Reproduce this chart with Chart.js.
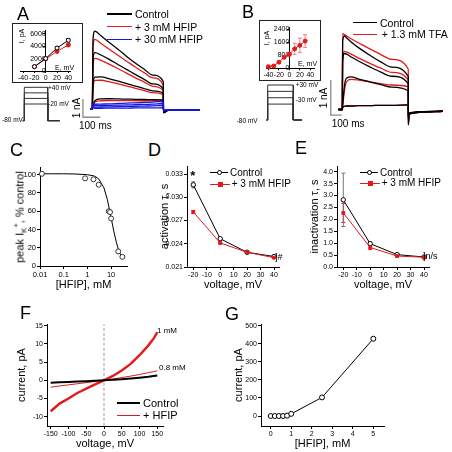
<!DOCTYPE html>
<html>
<head>
<meta charset="utf-8">
<title>HFIP / TFA figure</title>
<script src="https://cdn.jsdelivr.net/npm/chart.js@4.4.1/dist/chart.umd.min.js"></script>
<style>
  html, body { margin: 0; padding: 0; background: #fff; }
  #fig { position: relative; width: 452px; height: 452px; overflow: hidden; font-family: 'Liberation Sans', Arial, sans-serif; color: #000; }
  #fig canvas { position: absolute; }
  .t { position: absolute; white-space: nowrap; line-height: 1; }
  .t sub, .t sup { font-size: 70%; line-height: 0; }
</style>
</head>
<body>
<div id="fig"></div>
<script>
/* ---------- data ---------- */

// A: K+ current traces (time ms, current nA), steps +40 / +20 / 0 / -20 mV
const timeA = [-13, 0, 4, 15, 50, 100, 150, 200, 250, 300, 350, 410, 411, 440, 620];
const controlA = [
  [0, 0, 3.80, 4.26, 4.00, 3.62, 3.25, 2.86, 2.50, 2.17, 1.85, 1.50, -0.20, -0.06, -0.05],
  [0, 0, 2.70, 3.08, 2.95, 2.70, 2.42, 2.15, 1.88, 1.62, 1.37, 1.10, -0.20, -0.06, -0.05],
  [0, 0, 1.30, 1.74, 1.76, 1.65, 1.52, 1.38, 1.25, 1.12, 0.99, 0.86, -0.15, -0.06, -0.05],
  [0, 0, 0.20, 0.45, 0.55, 0.56, 0.55, 0.54, 0.53, 0.52, 0.51, 0.50, -0.10, -0.05, -0.05]
];
const hfip3A = [
  [0, 0, 3.40, 3.81, 3.58, 3.25, 2.92, 2.60, 2.28, 1.98, 1.70, 1.30, -0.20, -0.06, -0.05],
  [0, 0, 2.40, 2.77, 2.66, 2.44, 2.20, 1.95, 1.70, 1.47, 1.24, 1.00, -0.20, -0.06, -0.05],
  [0, 0, 1.10, 1.56, 1.57, 1.48, 1.37, 1.25, 1.13, 1.01, 0.90, 0.78, -0.15, -0.06, -0.05],
  [0, 0, 0.15, 0.38, 0.45, 0.46, 0.46, 0.46, 0.45, 0.45, 0.45, 0.45, -0.10, -0.05, -0.05]
];
const hfip30A = [
  [0, 0, 0.30, 0.26, 0.27, 0.28, 0.30, 0.32, 0.34, 0.36, 0.38, 0.42, -0.10, -0.05, -0.05],
  [0, 0, 0.20, 0.18, 0.19, 0.20, 0.21, 0.22, 0.24, 0.25, 0.27, 0.30, -0.10, -0.05, -0.05],
  [0, 0, 0.12, 0.10, 0.11, 0.12, 0.13, 0.14, 0.15, 0.16, 0.17, 0.19, -0.08, -0.05, -0.05],
  [0, 0, 0.05, 0.04, 0.04, 0.05, 0.05, 0.05, 0.06, 0.06, 0.06, 0.07, -0.06, -0.05, -0.05]
];
const barAx = [-54, -54, 46];        // scale bar: 1 nA / 100 ms
const barAy = [0.55, -0.45, -0.45];

// A: voltage protocol
const protoTimeA = [-25, 0, 0, 410, 410, 620];
const stepsA = [40, 20, 0, -20];
const holdA = -80;

// A inset: I-V
const ivEA = [-20, 0, 20, 40];
const ivCtrlA = [700, 2000, 3700, 4950];
const ivCtrlErrA = [80, 100, 200, 250];
const ivHfipA = [700, 1950, 3150, 4200];
const ivHfipErrA = [80, 100, 150, 200];
const ivXTicksA = [-40, -20, 0, 20, 40];
const ivYTicksA = [0, 2000, 4000, 6000];

// B: traces, steps +30 / +10 / -10 / -30 mV
const timeB = [-36, 0, 3, 20, 40, 80, 150, 250, 350, 450, 600, 601, 605, 640, 700, 915];
const controlB = [
  [0, 0, 1.95, 2.10, 2.04, 1.93, 1.76, 1.55, 1.36, 1.21, 0.94, -0.44, -0.15, -0.10, -0.08, -0.05],
  [0, 0, 1.35, 1.60, 1.58, 1.50, 1.38, 1.22, 1.07, 0.95, 0.73, -0.40, -0.15, -0.10, -0.08, -0.05],
  [0, 0, 0.10, 0.70, 0.90, 0.93, 0.87, 0.79, 0.71, 0.64, 0.53, -0.35, -0.12, -0.09, -0.07, -0.05],
  [0, 0, 0.06, 0.09, 0.10, 0.10, 0.11, 0.11, 0.12, 0.12, 0.13, -0.30, -0.10, -0.08, -0.06, -0.05]
];
const tfaB = [
  [0, 0, 2.17, 2.14, 2.10, 2.02, 1.90, 1.73, 1.57, 1.43, 1.15, -0.44, -0.15, -0.10, -0.08, -0.05],
  [0, 0, 1.45, 1.66, 1.64, 1.58, 1.47, 1.32, 1.18, 1.06, 0.84, -0.40, -0.15, -0.10, -0.08, -0.05],
  [0, 0, 0.08, 0.55, 0.80, 0.86, 0.84, 0.79, 0.74, 0.70, 0.65, -0.35, -0.12, -0.09, -0.07, -0.05],
  [0, 0, 0.06, 0.09, 0.10, 0.10, 0.11, 0.11, 0.12, 0.12, 0.13, -0.30, -0.10, -0.08, -0.06, -0.05]
];
const barBx = [-105, -105, -5];
const barBy = [0.84, -0.16, -0.16];

const protoTimeB = [-30, 0, 0, 600, 600, 800];
const stepsB = [30, 10, -10, -30];
const holdB = -80;

// B inset: I-V with TFA
const ivEB = [-40, -30, -20, -10, 0, 10, 20, 30];
const ivTfaB = [100, 140, 380, 680, 870, 1200, 1420, 1680];
const ivTfaErrB = [60, 50, 60, 80, 100, 350, 450, 400];
const ivXTicksB = [-40, -20, 0, 20, 40];
const ivYTicksB = [0, 800, 1600, 2400];

// C: dose-response
const hfipConc = [0.012, 0.8, 1.8, 3, 8, 9, 10, 20, 30];
const peakPct = [101, 96, 95, 89, 60, 59, 52, 16, 10];
const fitConc = [0.01, 0.03, 0.1, 0.3, 1, 2, 3, 5, 7, 10, 13, 17, 22, 30];
const fitPct = [101, 101, 101, 100.8, 100, 98.5, 95.5, 85.5, 72.5, 53, 38, 25, 15.5, 8.5];
const concTicks = [0.01, 0.1, 1, 10];
const pctTicks = [0, 20, 40, 60, 80, 100];

// D, E: time constants
const tauV = [-20, 0, 20, 40];
const actCtrl = [0.0316, 0.02465, 0.0229, 0.02235];
const actCtrlErr = [0.0004, 0.0001, 0.00005, 0.0001];
const actHfip = [0.0281, 0.0241, 0.0229, 0.0222];
const actHfipErr = [0.0002, 0.0001, 0.00005, 0.0001];
const inactCtrl = [2.82, 0.98, 0.52, 0.42];
const inactCtrlErr = [1.12, 0.07, 0.04, 0.03];
const inactHfip = [2.27, 0.82, 0.46, 0.41];
const inactHfipErr = [0.4, 0.09, 0.04, 0.03];
const tauVTicks = [-20, -10, 0, 10, 20, 30, 40];
const actTicks = [0.021, 0.024, 0.027, 0.030, 0.033];
const inactTicks = [0, 0.5, 1, 1.5, 2, 2.5, 3, 3.5, 4];

// F: I-V ramps
const rampV = [-150, -125, -100, -75, -50, -25, 0, 25, 50, 75, 100, 125, 140, 150];
const ramp1mM = [-8.5, -6.4, -5.0, -3.5, -2.3, -1.1, 0, 1.2, 2.7, 4.5, 6.9, 9.6, 11.5, 13.2];
const ramp08mM = [-1.9, -1.55, -1.25, -0.95, -0.65, -0.33, 0, 0.35, 0.75, 1.15, 1.6, 2.1, 2.4, 2.6];
const rampCtrl = [-0.65, -0.55, -0.45, -0.35, -0.25, -0.12, 0, 0.15, 0.3, 0.48, 0.7, 0.95, 1.15, 1.3];
const zeroLineV = [0, 0];
const zeroLineI = [-12.5, 15.5];
const rampVTicks = [-150, -100, -50, 0, 50, 100, 150];
const rampITicks = [-10, -5, 0, 5, 10, 15];

// G: current vs concentration
const gConc = [0, 0.2, 0.4, 0.6, 0.8, 1.0, 2.5, 5.0];
const gCurrent = [0, 0, 0, 0, 2, 12, 103, 428];
const gConcTicks = [0, 1, 2, 3, 4, 5];
const gCurTicks = [0, 100, 200, 300, 400, 500];

/* ---------- helpers ---------- */

const fig = document.getElementById('fig');
const SANS = "'Liberation Sans', Arial, sans-serif";
const NARROW = "'Liberation Sans Narrow', 'Liberation Sans', Arial, sans-serif";
const RED = '#e3191c', BLUE = '#1616e0', GRAY = '#8c8c8c';

Chart.defaults.font.family = SANS;
Chart.defaults.color = '#000';
Chart.defaults.animation = false;
Chart.defaults.events = [];
Chart.defaults.plugins.legend.display = false;
Chart.defaults.plugins.tooltip.enabled = false;

// pixel -> value calibration from two reference points
function lin(p1, v1, p2, v2) {
  const k = (v2 - v1) / (p2 - p1);
  return p => v1 + (p - p1) * k;
}
function pts(xs, ys) { return xs.map((x, i) => ({ x, y: ys[i] })); }

function canvasAt(l, t, w, h) {
  const c = document.createElement('canvas');
  c.width = w; c.height = h;
  c.style.left = l + 'px'; c.style.top = t + 'px';
  c.style.width = w + 'px'; c.style.height = h + 'px';
  fig.appendChild(c);
  return c;
}

function txt(html, x, y, size, o = {}) {
  const d = document.createElement('div');
  d.className = 't';
  d.innerHTML = html;
  d.style.left = x + 'px';
  d.style.top = y + 'px';
  d.style.fontSize = size + 'px';
  if (o.family) d.style.fontFamily = o.family;
  if (o.bold) d.style.fontWeight = 'bold';
  d.style.transform = `translate(${o.center ? '-50%' : '0'},-50%)` + (o.rot ? ' rotate(-90deg)' : '');
  fig.appendChild(d);
}
function hline(x, y, len, color, w) {
  const d = document.createElement('div');
  d.style.cssText = `position:absolute;left:${x}px;top:${y - w / 2}px;width:${len}px;height:${w}px;background:${color}`;
  fig.appendChild(d);
}
function marker(x, y, kind, color) {
  const d = document.createElement('div');
  d.style.cssText = `position:absolute;left:${x - 2.5}px;top:${y - 2.5}px;width:5px;height:5px;box-sizing:border-box;` +
    (kind === 'open' ? `border:1px solid ${color};border-radius:50%;background:#fff` : `background:${color}`);
  fig.appendChild(d);
}

// vertical error bars drawn through the chart's own y scale
const errorBars = {
  id: 'errorBars',
  beforeDatasetsDraw(chart) {
    const ctx = chart.ctx;
    chart.data.datasets.forEach((ds, i) => {
      if (!ds.errors) return;
      const meta = chart.getDatasetMeta(i);
      ctx.save();
      ctx.strokeStyle = ds.errorColor || ds.borderColor;
      ctx.lineWidth = 1;
      ds.data.forEach((p, j) => {
        const e = ds.errors[j];
        if (!e) return;
        const x = meta.data[j].x;
        const y0 = meta.yScale.getPixelForValue(p.y - e);
        const y1 = meta.yScale.getPixelForValue(p.y + e);
        ctx.beginPath();
        ctx.moveTo(x, y0); ctx.lineTo(x, y1);
        ctx.moveTo(x - 2, y0); ctx.lineTo(x + 2, y0);
        ctx.moveTo(x - 2, y1); ctx.lineTo(x + 2, y1);
        ctx.stroke();
      });
      ctx.restore();
    });
  }
};

function trace(xs, ys, color, w) {
  return { data: pts(xs, ys), borderColor: color, borderWidth: w || 1.3, pointRadius: 0,
           cubicInterpolationMode: 'monotone', fill: false };
}
function pline(xs, ys, color, w) {
  return { data: pts(xs, ys), borderColor: color, borderWidth: w || 1, pointRadius: 0, fill: false };
}
function markers(xs, ys, color, open, errors, extra) {
  return Object.assign({
    data: pts(xs, ys), errors, borderColor: color, borderWidth: 1,
    pointRadius: 2.2, pointBorderWidth: 1, pointBorderColor: color,
    pointBackgroundColor: open ? '#fff' : color, clip: false, fill: false
  }, extra || {});
}

// chart without visible axes: canvas == chart area
function bareChart(box, xr, yr, datasets) {
  return new Chart(canvasAt(...box), {
    type: 'line',
    data: { datasets },
    options: {
      responsive: false, devicePixelRatio: 1,
      layout: { padding: 0 },
      scales: {
        x: { type: 'linear', display: false, min: xr[0], max: xr[1] },
        y: { type: 'linear', display: false, min: yr[0], max: yr[1] }
      }
    }
  });
}

function axis(o) {
  const a = {
    type: o.type || 'linear',
    min: o.min, max: o.max,
    afterBuildTicks: s => { s.ticks = o.ticks.map(v => ({ value: v })); },
    afterFit: o.fit,
    grid: { drawOnChartArea: false, drawTicks: true, tickLength: o.tl || 3, color: '#000', lineWidth: 1 },
    border: { display: true, color: '#000', width: 1 },
    ticks: {
      autoSkip: false, maxRotation: 0, minRotation: 0, padding: o.pad == null ? 1 : o.pad, color: '#000',
      font: { size: o.size || 7.5, family: o.family || SANS },
      callback: o.fmt || (v => String(v))
    },
    title: o.title
      ? { display: true, text: o.title, color: '#000', padding: o.tpad,
          font: { size: o.tsize || 11, family: o.tfamily || SANS, lineHeight: 1 } }
      : { display: false }
  };
  if (o.position) a.position = o.position;
  return a;
}

// chart with left/bottom axes; area = [x0, y0, x1, y1] in page pixels
function framedChart(box, area, datasets, xo, yo) {
  const [l, t, w, h] = box;
  xo.fit = s => { s.height = t + h - area[3]; };
  yo.fit = s => { s.width = area[0] - l; };
  return new Chart(canvasAt(l, t, w, h), {
    type: 'line',
    data: { datasets },
    options: {
      responsive: false, devicePixelRatio: 1,
      layout: { padding: { left: 0, bottom: 0, top: area[1] - t, right: l + w - area[2] } },
      scales: { x: axis(xo), y: axis(yo) }
    },
    plugins: [errorBars]
  });
}

/* ---------- panel A ---------- */
{
  const ax = lin(92.3, 0, 163.3, 410), ay = lin(109, 0, 90.7, 1);
  const ds = [];
  hfip30A.forEach(v => ds.push(trace(timeA, v, BLUE)));
  controlA.forEach(v => ds.push(trace(timeA, v, '#000')));
  hfip3A.forEach(v => ds.push(trace(timeA, v, RED)));
  ds.push(pline(barAx, barAy, GRAY, 1.3));
  bareChart([80, 25, 125, 97], [ax(80), ax(205)], [ay(122), ay(25)], ds);

  const px = lin(24.3, 0, 47.7, 410), py = lin(87.3, 40, 120.7, -80);
  bareChart([18, 82, 46, 42], [px(18), px(64)], [py(124), py(82)],
    stepsA.map(L => pline(protoTimeA, protoTimeA.map((t, i) => (i === 2 || i === 3) ? L : holdA), '#333', 1)));

  const box = document.createElement('div');
  box.style.cssText = 'position:absolute;left:12px;top:23px;width:71px;height:60px;border:1.5px solid #222;box-sizing:border-box';
  fig.appendChild(box);
  const ix = lin(45.7, 0, 68.3, 40), iy = lin(71, 0, 31.7, 6000);
  new Chart(canvasAt(14, 25, 67, 56), {
    type: 'line',
    data: { datasets: [
      markers(ivEA, ivCtrlA, '#000', true, ivCtrlErrA, { pointRadius: 2 }),
      markers(ivEA, ivHfipA, RED, false, ivHfipErrA, { pointRadius: 2 })
    ] },
    options: {
      responsive: false, devicePixelRatio: 1,
      layout: { padding: { left: 20.7 - 14, right: 81 - 70, top: 28 - 25, bottom: 0 } },
      scales: {
        x: axis({ min: ix(20.7), max: ix(70), ticks: ivXTicksA, size: 7, tl: 2, fit: s => { s.height = 81 - 71; } }),
        y: axis({ min: 0, max: iy(28), ticks: ivYTicksA, size: 7, tl: 2, position: { x: 0 }, fit: s => { s.width = 0; } })
      }
    },
    plugins: [errorBars]
  });
}

/* ---------- panel B ---------- */
{
  const bx = lin(342.3, 0, 408.3, 600), by = lin(109.5, 0, 74.5, 1);
  const ds = [];
  controlB.forEach(v => ds.push(trace(timeB, v, '#000')));
  tfaB.forEach(v => ds.push(trace(timeB, v, RED)));
  ds.push(pline(barBx, barBy, GRAY, 1.3));
  bareChart([326, 25, 122, 103], [bx(326), bx(448)], [by(128), by(25)], ds);

  const qx = lin(267.7, 0, 293.3, 600), qy = lin(85, 30, 120, -80);
  bareChart([262, 80, 46, 44], [qx(262), qx(308)], [qy(124), qy(80)],
    stepsB.map(L => pline(protoTimeB, protoTimeB.map((t, i) => (i === 2 || i === 3) ? L : holdB), '#333', 1)));

  const box = document.createElement('div');
  box.style.cssText = 'position:absolute;left:259px;top:20px;width:62px;height:61px;border:1.5px solid #222;box-sizing:border-box';
  fig.appendChild(box);
  const ix = lin(289.7, 0, 312.7, 40), iy = lin(68.3, 0, 29, 2400);
  new Chart(canvasAt(261, 22, 58, 57), {
    type: 'line',
    data: { datasets: [
      markers(ivEB, ivTfaB, RED, false, ivTfaErrB, { pointRadius: 2, errorColor: '#f08080' })
    ] },
    options: {
      responsive: false, devicePixelRatio: 1,
      layout: { padding: { left: 264 - 261, right: 319 - 316.7, top: 26.7 - 22, bottom: 0 } },
      scales: {
        x: axis({ min: ix(264), max: ix(316.7), ticks: ivXTicksB, size: 7, tl: 2, fit: s => { s.height = 79 - 68.3; } }),
        y: axis({ min: 0, max: iy(26.7), ticks: ivYTicksB, size: 7, tl: 2, position: { x: 0 }, fit: s => { s.width = 0; } })
      }
    },
    plugins: [errorBars]
  });
}

/* ---------- panel C ---------- */
{
  const decade = 23.7;
  framedChart([0, 160, 135, 131], [40, 167, 127, 266], [
    markers(hfipConc, peakPct, '#333', true, null, { showLine: false, pointRadius: 2.5 }),
    pline(fitConc, fitPct, '#000', 1)
  ], {
    type: 'logarithmic', min: 0.01, max: Math.pow(10, -2 + (127 - 40) / decade), ticks: concTicks,
    title: '[HFIP], mM', tpad: { top: 0, bottom: 1 }
  }, {
    min: 0, max: (266 - 167) / 0.913, ticks: pctTicks
  });
}

/* ---------- panel D ---------- */
{
  const vx = lin(193.3, -20, 274, 40), vy = lin(174, 0.033, 267, 0.021);
  framedChart([150, 160, 140, 132], [187, 166, 279, 267], [
    markers(tauV, actHfip, RED, false, actHfipErr, { pointStyle: 'rect', pointRadius: 2 }),
    markers(tauV, actCtrl, '#000', true, actCtrlErr, { errorColor: '#777' })
  ], {
    min: vx(187), max: vx(279), ticks: tauVTicks, size: 7, family: NARROW,
    title: 'voltage, mV', tfamily: NARROW, tpad: { top: 0, bottom: 1.5 }
  }, {
    min: 0.021, max: vy(166), ticks: actTicks, size: 7, family: NARROW, fmt: v => v.toFixed(3),
    title: 'activation τ, s', tfamily: NARROW, tpad: { top: 9.5, bottom: 0 }
  });
}

/* ---------- panel E ---------- */
{
  const vx = lin(343.3, -20, 424, 40), vy = lin(171.7, 4, 267, 0);
  framedChart([300, 160, 140, 132], [337, 166, 429, 267], [
    markers(tauV, inactHfip, RED, false, inactHfipErr, { pointStyle: 'rect', pointRadius: 2 }),
    markers(tauV, inactCtrl, '#000', true, inactCtrlErr, { errorColor: '#777' })
  ], {
    min: vx(337), max: vx(429), ticks: tauVTicks, size: 7, family: NARROW,
    title: 'voltage, mV', tfamily: NARROW, tpad: { top: 0, bottom: 1.5 }
  }, {
    min: 0, max: vy(166), ticks: inactTicks, size: 7, family: NARROW, fmt: v => v.toFixed(1),
    title: 'inactivation τ, s', tfamily: NARROW, tpad: { top: 9.5, bottom: 0 }
  });
}

/* ---------- panel F ---------- */
{
  const fx = lin(50.7, -150, 157.3, 150), fy = lin(325.7, 15, 416.7, -10);
  framedChart([0, 305, 170, 146], [47, 324, 163, 426], [
    pline(rampV, rampCtrl, '#000', 2),
    pline(rampV, ramp08mM, RED, 1),
    pline(rampV, ramp1mM, RED, 2.4),
    Object.assign(pline(zeroLineV, zeroLineI, '#999', 1), { borderDash: [3, 2] })
  ], {
    min: fx(47), max: fx(163), ticks: rampVTicks, size: 7, pad: 0.5,
    title: 'voltage, mV', tpad: { top: 0, bottom: 1.5 }
  }, {
    min: fy(426), max: fy(324), ticks: rampITicks, size: 7, title: 'current, pA', tpad: { top: 16.5, bottom: 0 }
  });
}

/* ---------- panel G ---------- */
{
  const gx = lin(270.7, 0, 373.3, 5), gy = lin(416, 0, 325.7, 500);
  framedChart([225, 305, 165, 146], [261, 324, 384, 426], [
    markers(gConc, gCurrent, '#000', true, null, { pointRadius: 2.5, borderColor: '#000' })
  ], {
    min: gx(261), max: gx(384), ticks: gConcTicks, size: 7, pad: 0.5,
    title: '[HFIP], mM', tpad: { top: 0, bottom: 1.5 }
  }, {
    min: gy(426), max: gy(324), ticks: gCurTicks, size: 7, title: 'current, pA', tpad: { top: 8, bottom: 0 }
  });
}

/* ---------- text ---------- */
txt('A', 17, 13.5, 18); txt('B', 242, 11.5, 18); txt('C', 10, 149.5, 18);
txt('D', 148, 149.5, 18); txt('E', 295, 147.5, 18); txt('F', 20, 312.5, 18); txt('G', 225, 314, 18);

// A legend, labels
hline(107, 14, 25, '#000', 1.5); txt('Control', 135, 14, 10.5);
hline(107, 26.7, 25, RED, 1.5); txt('+ 3 mM HFIP', 135, 26.7, 10.5);
hline(107, 39.3, 25, BLUE, 1.5); txt('+ 30 mM HFIP', 135, 39.3, 10.5);
txt('I, pA', 21, 36, 7, { rot: true, center: true });
txt('E, mV', 55, 66.5, 7);
txt('+40 mV', 48, 87.5, 6.5); txt('-20 mV', 48, 104, 6.5); txt('-80 mV', 2, 120, 6.5);
txt('1 nA', 77, 108, 10, { rot: true, center: true });
txt('100 ms', 79, 125.5, 10);

// B legend, labels
hline(353, 22.7, 24, '#000', 1.5); txt('Control', 380, 22.7, 10.5);
hline(353, 34.3, 24, RED, 1.5); txt('+ 1.3 mM TFA', 381.7, 34.3, 10.5);
txt('I, pA', 266, 38, 7, { rot: true, center: true });
txt('E, mV', 298, 63, 7);
txt('+30 mV', 295.7, 85, 6.5); txt('-30 mV', 295.7, 100, 6.5); txt('-80 mV', 236.7, 120.5, 6.5);
txt('1 nA', 324, 98, 10, { rot: true, center: true });
txt('100 ms', 331.7, 124, 10);

// C
txt('peak I<sub>K</sub><sup>+</sup>, % control', 20, 216.5, 11, { rot: true, center: true });

// D
hline(210, 172.7, 18, '#000', 1); marker(219, 172.7, 'open', '#000'); txt('Control', 230, 172.7, 10, { family: NARROW });
hline(210, 184.3, 20, RED, 1); marker(220, 184.3, 'fill', RED); txt('+ 3 mM HFIP', 231.7, 184.3, 10, { family: NARROW });
txt('*', 192.7, 175, 13, { center: true, bold: true });
txt(']#', 275, 256.7, 9, { family: NARROW });

// E
hline(360, 172.7, 18, '#000', 1); marker(369, 172.7, 'open', '#000'); txt('Control', 380, 172.7, 10, { family: NARROW });
hline(360, 183.3, 20, RED, 1); marker(370, 183.3, 'fill', RED); txt('+ 3 mM HFIP', 381.7, 183.3, 10, { family: NARROW });
txt(']n/s', 423, 256, 9, { family: NARROW });

// F
txt('1 mM', 157, 330.7, 8); txt('0.8 mM', 159, 367.7, 8);
hline(117, 402.7, 23, '#000', 2); txt('Control', 143, 402.7, 11);
hline(117, 415, 23, RED, 1); txt('+ HFIP', 143, 415, 11);
</script>
</body>
</html>
